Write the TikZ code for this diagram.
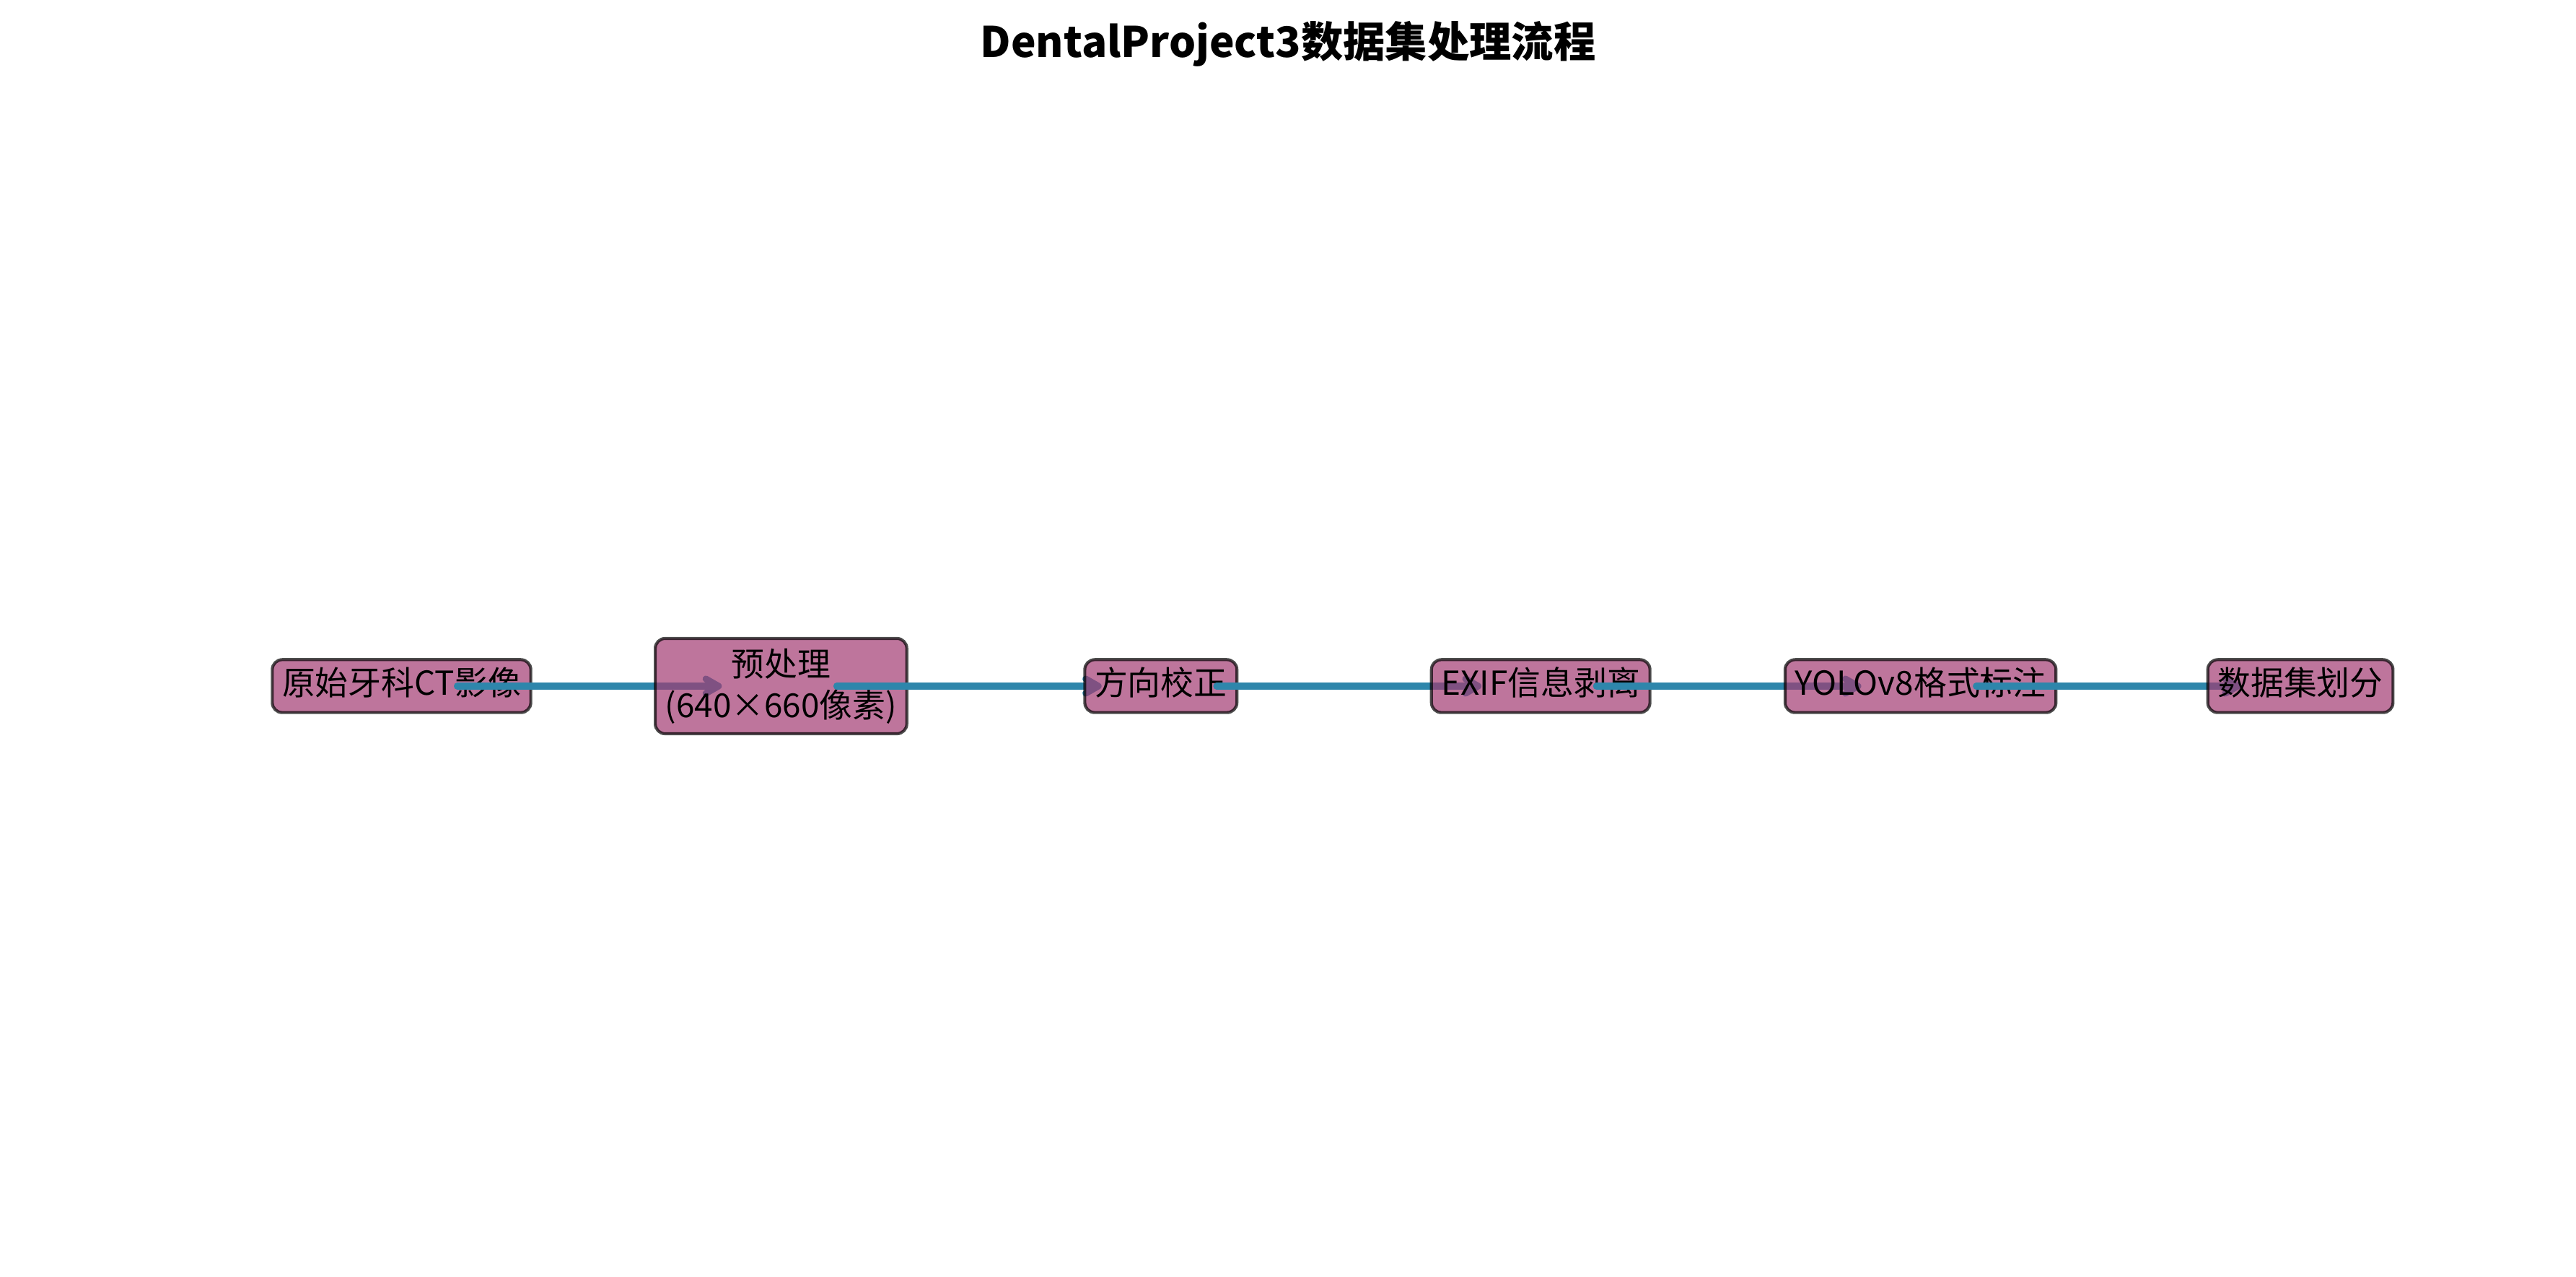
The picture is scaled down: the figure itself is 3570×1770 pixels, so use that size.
\documentclass[tikz,border=0pt]{standalone}
\usepackage{fontspec}
\setmainfont{Noto Sans CJK SC}
\usetikzlibrary{arrows.meta}
\definecolor{boxfill}{HTML}{A23B72}
\definecolor{arrowblue}{HTML}{2E86AB}
\pgfdeclarelayer{L1}\pgfdeclarelayer{L2}\pgfdeclarelayer{L3}\pgfdeclarelayer{L4}
\pgfdeclarelayer{L5}\pgfdeclarelayer{L6}\pgfdeclarelayer{L7}\pgfdeclarelayer{L8}
\pgfdeclarelayer{L9}\pgfdeclarelayer{L10}\pgfdeclarelayer{L11}
\pgfsetlayers{main,L1,L2,L3,L4,L5,L6,L7,L8,L9,L10,L11}
\tikzset{
  stepbox/.style={draw=black, fill=boxfill, fill opacity=0.7, draw opacity=0.7, text opacity=1,
    line width=1bp, rounded corners=3.3bp, inner xsep=3.3bp, inner ysep=3.3bp,
    font=\fontsize{11bp}{13.6bp}\selectfont, text height=8.6bp, text depth=2.4bp},
  bigbox/.style={stepbox, text height=, text depth=, align=center, minimum height=31.7bp},
  flow/.style={draw=arrowblue, line width=2.2bp, line cap=round,
    -{Straight Barb[length=4.2bp, width=4.8bp, line join=round, line cap=round]}},
  titletext/.style={font=\fontsize{14bp}{17bp}\selectfont\bfseries}
}
\begin{document}
\begin{tikzpicture}[x=0.24bp, y=-0.24bp]
\useasboundingbox (0,0) rectangle (3570,1770);
\node[titletext] (title) at (1785,61) {DentalProject3数据集处理流程};
\begin{pgfonlayer}{L1}
\node[stepbox] (n1) at (556.5,951) {原始牙科CT影像};
\end{pgfonlayer}
\begin{pgfonlayer}{L3}
\node[bigbox] (n2) at (1082.4,951) {预处理\\(640×660像素)};
\end{pgfonlayer}
\begin{pgfonlayer}{L5}
\node[stepbox] (n3) at (1608.8,951) {方向校正};
\end{pgfonlayer}
\begin{pgfonlayer}{L7}
\node[stepbox] (n4) at (2135.2,951) {EXIF信息剥离};
\end{pgfonlayer}
\begin{pgfonlayer}{L9}
\node[stepbox] (n5) at (2661.6,951) {YOLOv8格式标注};
\end{pgfonlayer}
\begin{pgfonlayer}{L11}
\node[stepbox] (n6) at (3188,951) {数据集划分};
\end{pgfonlayer}
\begin{pgfonlayer}{L2}
\draw[flow] ([xshift=18.5bp]n1.center) -- ([xshift=-19.7bp]n2.center);
\end{pgfonlayer}
\begin{pgfonlayer}{L4}
\draw[flow] ([xshift=18.5bp]n2.center) -- ([xshift=-19.7bp]n3.center);
\end{pgfonlayer}
\begin{pgfonlayer}{L6}
\draw[flow] ([xshift=18.5bp]n3.center) -- ([xshift=-19.7bp]n4.center);
\end{pgfonlayer}
\begin{pgfonlayer}{L8}
\draw[flow] ([xshift=18.5bp]n4.center) -- ([xshift=-19.7bp]n5.center);
\end{pgfonlayer}
\begin{pgfonlayer}{L10}
\draw[flow] ([xshift=18.5bp]n5.center) -- ([xshift=-19.7bp]n6.center);
\end{pgfonlayer}
\end{tikzpicture}
\end{document}
